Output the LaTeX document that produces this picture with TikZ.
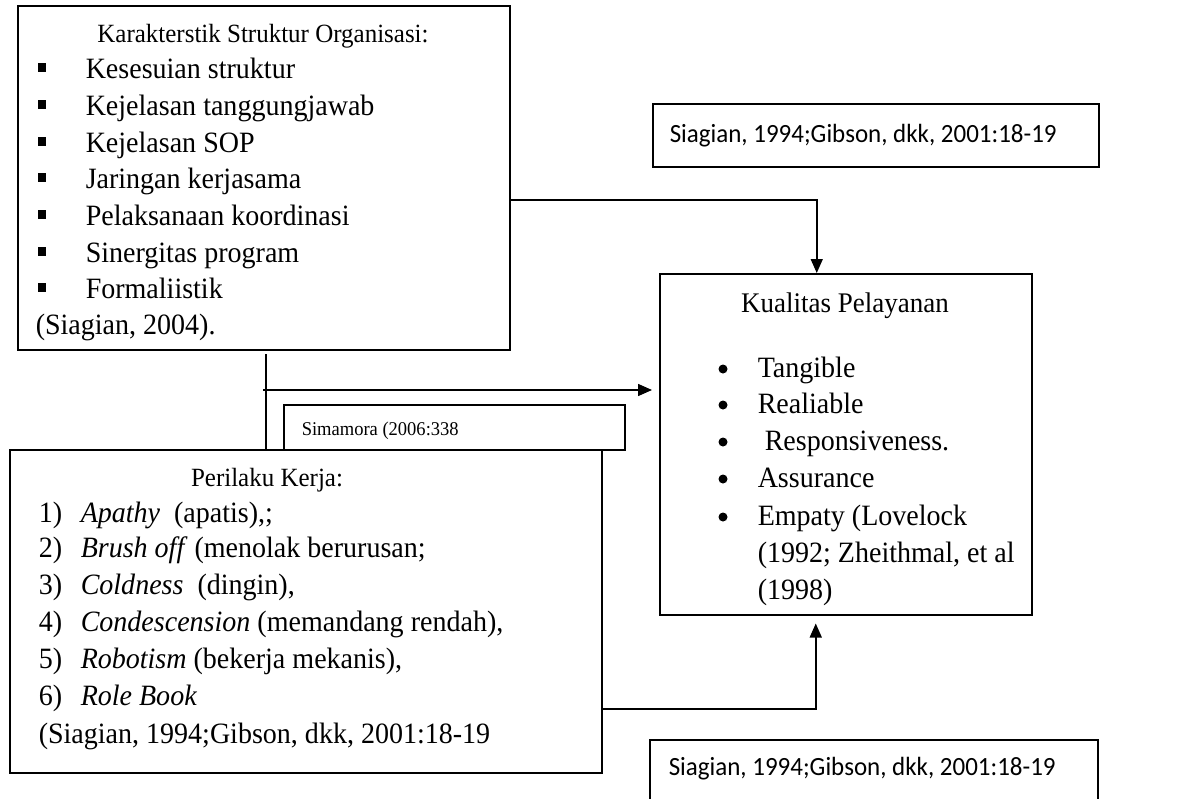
\documentclass[tikz,border=0pt]{standalone}
\usepackage{fontspec}
\setmainfont{Liberation Serif}[FakeStretch=0.95]
\newfontfamily\calfont{Carlito}[FakeStretch=0.95]
\usetikzlibrary{arrows.meta}
\newcommand{\sqbul}{\rule[6pt]{8.5pt}{9pt}\hspace{39.5pt}}
\begin{document}
\begin{tikzpicture}[x=1pt,y=-1pt,line width=1.5pt,
  box/.style={draw,line width=1.5pt,inner sep=0,anchor=north west},
  tx/.style={anchor=base west,inner sep=0,font=\fontsize{29.5}{34}\selectfont},
  ttl/.style={anchor=base,inner sep=0,font=\fontsize{26.3}{31}\selectfont},
  cite/.style={anchor=base west,inner sep=0,font=\calfont\fontsize{26.3}{31}\selectfont},
  arr/.style={-{Triangle[length=14pt,width=12pt]},line width=1.5pt}]
\clip (0,0) rectangle (1194,798);
\fill[white] (0,0) rectangle (1194,798);
% boxes
\node[box,minimum width=492pt,minimum height=344pt] (S) at (17,5) {};
\node[box,minimum width=592pt,minimum height=323pt] (P) at (9,449) {};
\node[box,minimum width=372pt,minimum height=341pt] (K) at (659,273) {};
\node[box,minimum width=446pt,minimum height=63pt] (C1) at (652,103) {};
\node[box,minimum width=448pt,minimum height=80pt] (C2) at (649,739) {};
\node[box,minimum width=341pt,minimum height=45pt] (M) at (283,404) {};
% Struktur text
\node[ttl] (s0) at (263,42) {Karakterstik Struktur Organisasi:};
\node[tx] (s1) at (37,78) {\sqbul Kesesuian struktur};
\node[tx] (s2) at (37,115) {\sqbul Kejelasan tanggungjawab};
\node[tx] (s3) at (37,152) {\sqbul Kejelasan SOP};
\node[tx] (s4) at (37,188) {\sqbul Jaringan kerjasama};
\node[tx] (s5) at (37,225) {\sqbul Pelaksanaan koordinasi};
\node[tx] (s6) at (37,262) {\sqbul Sinergitas program};
\node[tx] (s7) at (37,298) {\sqbul Formaliistik};
\node[tx] (s8) at (35,334) {(Siagian, 2004).};
% Perilaku text
\node[ttl] (p0) at (267,486) {Perilaku Kerja:};
\node[tx] (p1) at (38,522) {\makebox[42pt][l]{1)}\textit{Apathy}\ \ (apatis),;};
\node[tx] (p2) at (38,557) {\makebox[42pt][l]{2)}\textit{Brush off} (menolak berurusan;};
\node[tx] (p3) at (38,594) {\makebox[42pt][l]{3)}\textit{Coldness}\ \ (dingin),};
\node[tx] (p4) at (38,631) {\makebox[42pt][l]{4)}\textit{Condescension} (memandang rendah),};
\node[tx] (p5) at (38,668) {\makebox[42pt][l]{5)}\textit{Robotism} (bekerja mekanis),};
\node[tx] (p6) at (38,705) {\makebox[42pt][l]{6)}\textit{Role Book}};
\node[tx] (p7) at (38,743) {(Siagian, 1994;Gibson, dkk, 2001:18-19};
% Kualitas text
\node[ttl,font=\fontsize{28.4}{33}\selectfont] (k0) at (845,312) {Kualitas Pelayanan};
\node[tx] (k1) at (757,377) {Tangible};
\node[tx] (k2) at (757,413) {Realiable};
\node[tx] (k3) at (757,450) {\ Responsiveness.};
\node[tx] (k4) at (757,487) {Assurance};
\node[tx] (k5) at (757,525) {Empaty (Lovelock};
\node[tx] (k6) at (757,562) {(1992; Zheithmal, et al};
\node[tx] (k7) at (757,599) {(1998)};
\foreach \yy in {369,405,442,479,517} \fill (723,\yy) circle (4.5pt);
% citation boxes text
\node[cite] (c1) at (669,142) {Siagian, 1994;Gibson, dkk, 2001:18-19};
\node[cite] (c2) at (668,775) {Siagian, 1994;Gibson, dkk, 2001:18-19};
\node[anchor=base west,inner sep=0,font=\fontsize{19.5}{23}\selectfont] (m1) at (301,435) {Simamora (2006:338};
% connectors
\coordinate (j1) at (266,354);
\coordinate (j2) at (266,390);
\draw[arr] (S.east |- 0,200) -| ([xshift=-29pt]K.north);
\draw (j1) -- (j1 |- P.north);
\draw[arr,shorten >=7pt] ([xshift=-3pt]j2) -- (K.west |- j2);
\draw[arr] (P.east |- 0,709) -| ([xshift=-30pt,yshift=-8pt]K.south);
\end{tikzpicture}
\end{document}
